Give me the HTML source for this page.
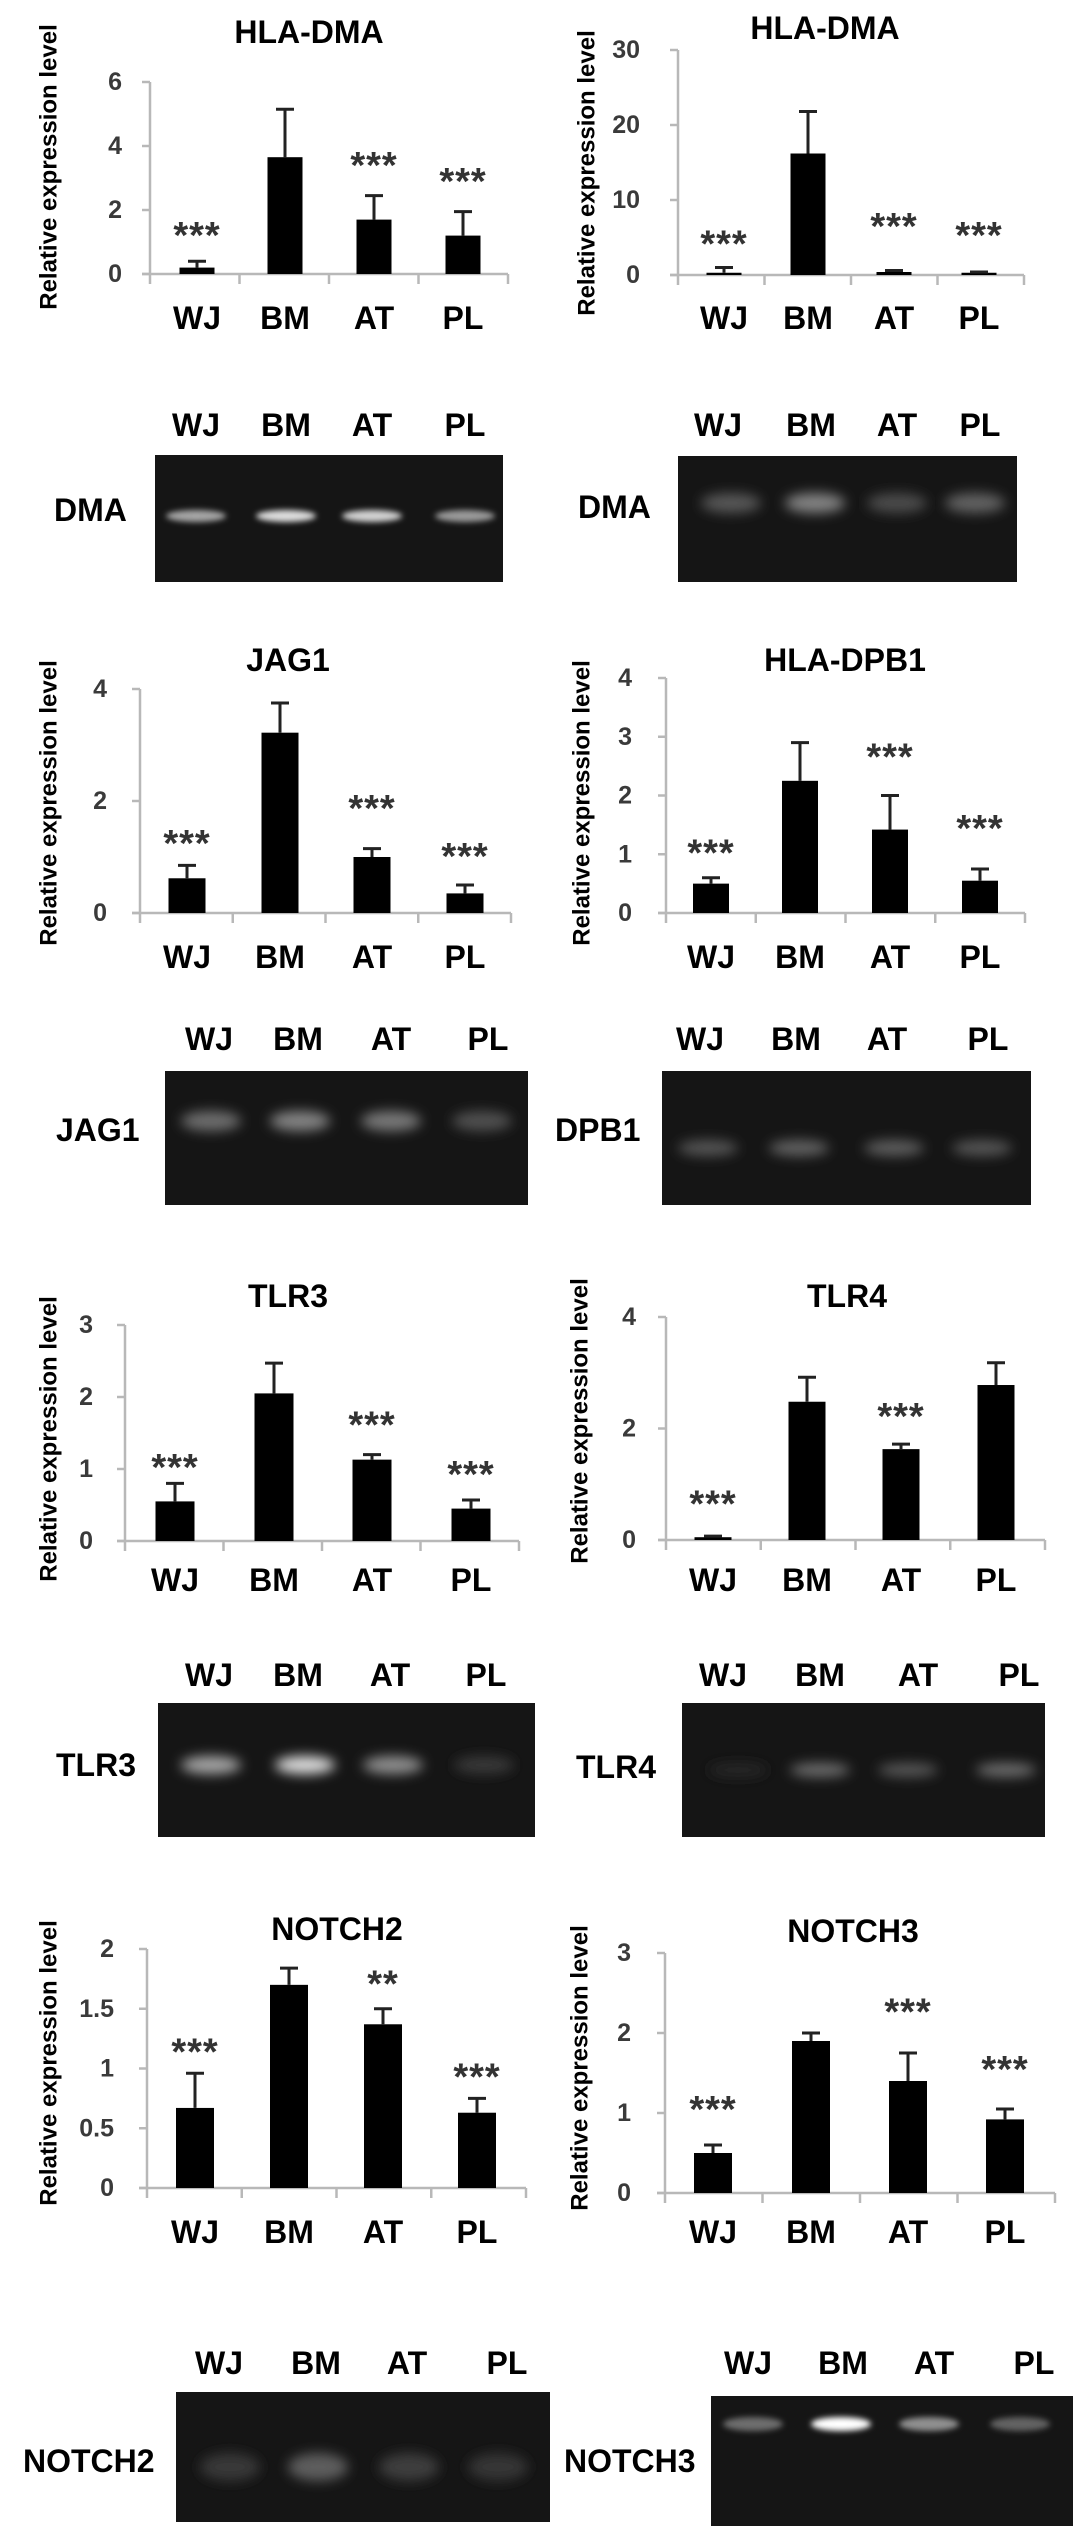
<!DOCTYPE html>
<html><head><meta charset="utf-8">
<style>
html,body{margin:0;padding:0;background:#fff;}
svg{display:block;}
text{font-family:"Liberation Sans",Arial,sans-serif;}
</style></head>
<body>
<svg id="fig" width="1087" height="2526" viewBox="0 0 1087 2526" xmlns="http://www.w3.org/2000/svg">
<defs>
<filter id="blur3" x="-50%" y="-200%" width="200%" height="500%"><feGaussianBlur stdDeviation="3"/></filter>
<filter id="blur6" x="-50%" y="-200%" width="200%" height="500%"><feGaussianBlur stdDeviation="6"/></filter>
</defs>
</svg>
<script>
const categories = ["WJ","BM","AT","PL"];

// HLA-DMA (left)
const c1Values = [0.2, 3.65, 1.7, 1.2];
const c1Errors = [0.4, 5.15, 2.45, 1.95];
const c1Stars = ["***","","***","***"];
const c1StarLevels = [1.47, 0, 3.66, 3.15];
const c1Ticks = [0,2,4,6];
// HLA-DMA (right)
const c2Values = [0.3, 16.2, 0.4, 0.3];
const c2Errors = [1.0, 21.8, 0.6, 0.4];
const c2Stars = ["***","","***","***"];
const c2StarLevels = [5.3, 0, 7.6, 6.4];
const c2Ticks = [0,10,20,30];
// JAG1
const c3Values = [0.62, 3.22, 1.0, 0.35];
const c3Errors = [0.85, 3.75, 1.15, 0.5];
const c3Stars = ["***","","***","***"];
const c3StarLevels = [1.39, 0, 2.02, 1.16];
const c3Ticks = [0,2,4];
// HLA-DPB1
const c4Values = [0.5, 2.25, 1.42, 0.55];
const c4Errors = [0.6, 2.9, 2.0, 0.75];
const c4Stars = ["***","","***","***"];
const c4StarLevels = [1.17, 0, 2.8, 1.58];
const c4Ticks = [0,1,2,3,4];
// TLR3
const c5Values = [0.55, 2.05, 1.13, 0.45];
const c5Errors = [0.8, 2.47, 1.2, 0.57];
const c5Stars = ["***","","***","***"];
const c5StarLevels = [1.14, 0, 1.73, 1.04];
const c5Ticks = [0,1,2,3];
// TLR4
const c6Values = [0.05, 2.48, 1.63, 2.78];
const c6Errors = [0.07, 2.92, 1.72, 3.18];
const c6Stars = ["***","","***",""];
const c6StarLevels = [0.8, 0, 2.37, 0];
const c6Ticks = [0,2,4];
// NOTCH2
const c7Values = [0.67, 1.7, 1.37, 0.63];
const c7Errors = [0.96, 1.84, 1.5, 0.75];
const c7Stars = ["***","","**","***"];
const c7StarLevels = [1.21, 0, 1.78, 1.0];
const c7Ticks = [0,0.5,1,1.5,2];
const c7TickLabels = ["0","0.5","1","1.5","2"];
// NOTCH3
const c8Values = [0.5, 1.9, 1.4, 0.92];
const c8Errors = [0.6, 2.0, 1.75, 1.05];
const c8Stars = ["***","","***","***"];
const c8StarLevels = [1.15, 0, 2.37, 1.65];
const c8Ticks = [0,1,2,3];

// gel band intensities (0-1)
const g1LBands = [0.6, 0.85, 0.8, 0.55];
const g1RBands = [0.25, 0.45, 0.2, 0.3];
const g2LBands = [0.35, 0.45, 0.4, 0.22];
const g2RBands = [0.24, 0.3, 0.28, 0.24];
const g3LBands = [0.6, 0.85, 0.5, 0.12];
const g3RBands = [0.04, 0.35, 0.25, 0.35];
const g4LBands = [0.12, 0.28, 0.14, 0.1];
const g4RBands = [0.35, 1.0, 0.5, 0.3];

const svg = document.getElementById('fig');
const NS = "http://www.w3.org/2000/svg";
function mk(tag, attrs, parent){
  const e = document.createElementNS(NS, tag);
  for (const k in attrs) e.setAttribute(k, attrs[k]);
  (parent||svg).appendChild(e);
  return e;
}
function txt(parent, x, y, s, size, opts){
  opts = opts||{};
  const t = mk('text', {x:x, y:y, 'font-size':size, 'font-weight':opts.w||'bold', fill:opts.fill||'#000',
    'text-anchor':opts.anchor||'middle', 'dominant-baseline':opts.base||'central'}, parent);
  if (opts.tf) t.setAttribute('transform', opts.tf);
  t.textContent = s;
  return t;
}

function chart(id, cfg, values, errors, stars, starLevels, ticks, tickLabels){
  const g = mk('g', {});
  
  
  const ymax = ticks[ticks.length-1];
  const yScale = v => cfg.zero - (v / ymax) * (cfg.zero - cfg.top);
  const xScale = i => cfg.cats[i];
  const title = txt(g, cfg.tx, cfg.ty, cfg.title, 32);
  
  
  const yt = txt(g, cfg.ytx, cfg.yty, 'Relative expression level', 24, {tf:'rotate(-90 '+cfg.ytx+' '+cfg.yty+')'});
  
  
  // axes
  const ya = mk('line', {x1:cfg.ax, y1:yScale(ymax), x2:cfg.ax, y2:cfg.zero+10, stroke:'#b8b8b8', 'stroke-width':2.5}, g);
  
  
  const xa = mk('line', {x1:cfg.ax-8, y1:cfg.zero, x2:cfg.end, y2:cfg.zero, stroke:'#b8b8b8', 'stroke-width':2.5}, g);
  
  
  for (let k=1;k<=4;k++){
    const xx = cfg.ax + k*(cfg.end-cfg.ax)/4;
    mk('line', {x1:xx, y1:cfg.zero, x2:xx, y2:cfg.zero+10, stroke:'#b8b8b8', 'stroke-width':2.5}, g);
  }
  ticks.forEach((t,i)=>{
    const y = yScale(t);
    mk('line', {x1:cfg.ax-8, y1:y, x2:cfg.ax, y2:y, stroke:'#b8b8b8', 'stroke-width':2.5}, g);
    const tl = txt(g, cfg.tr, y, tickLabels ? tickLabels[i] : String(t), 25, {anchor:'end', fill:'#3a3a3a', w:'bold'});
    
    
  });
  values.forEach((v,i)=>{
    const cx = xScale(i), w = cfg.bw;
    const b = mk('rect', {x:cx-w/2, y:yScale(v), width:w, height:cfg.zero-yScale(v), fill:'#000'}, g);
    
    
    const eTop = yScale(errors[i]);
    const eb = mk('path', {d:'M'+cx+' '+yScale(v)+'V'+eTop+'M'+(cx-9)+' '+eTop+'H'+(cx+9), stroke:'#222', 'stroke-width':3, fill:'none'}, g);
    
    
    if (stars[i]){
      const st = txt(g, cx, yScale(starLevels[i]) + 21, stars[i], 38, {base:'auto', fill:'#333', w:'bold'});
      st.setAttribute('letter-spacing', '1');
      
      
    }
    const cl = txt(g, cx, cfg.cy, categories[i], 32);
    
    
  });
}

function gel(id, cfg, bands){
  const g = mk('g', {});
  
  
  categories.forEach((c,i)=>{
    const l = txt(g, cfg.lx[i], cfg.ly, c, 32);
    
    
  });
  const nl = txt(g, cfg.nx, cfg.ny, cfg.name, 32, {anchor:'start'});
  
  
  const box = mk('rect', {x:cfg.x0, y:cfg.y0, width:cfg.x1-cfg.x0, height:cfg.y1-cfg.y0, fill:'#151515'}, g);
  
  
  bands.forEach((v,i)=>{
    const c = Math.round(30 + v*225);
    const band = mk('ellipse', {cx:cfg.bx[i], cy:cfg.by, rx:cfg.rx, ry:cfg.ry, fill:'rgb('+c+','+c+','+c+')', filter:'url(#'+cfg.f+')'}, g);
    
    
  });
}

chart('hla-dma-left', {title:'HLA-DMA', tx:309, ty:32, ytx:49, yty:167, ax:150, end:508, zero:274, top:82, tr:122, cats:[197,285,374,463], bw:35, cy:318}, c1Values, c1Errors, c1Stars, c1StarLevels, c1Ticks);
chart('hla-dma-right', {title:'HLA-DMA', tx:825, ty:28, ytx:587, yty:173, ax:678, end:1024, zero:275, top:50, tr:640, cats:[724,808,894,979], bw:35, cy:318}, c2Values, c2Errors, c2Stars, c2StarLevels, c2Ticks);
chart('jag1', {title:'JAG1', tx:288, ty:660, ytx:49, yty:803, ax:140, end:511, zero:913, top:689, tr:107, cats:[187,280,372,465], bw:37, cy:957}, c3Values, c3Errors, c3Stars, c3StarLevels, c3Ticks);
chart('hla-dpb1', {title:'HLA-DPB1', tx:845, ty:660, ytx:582, yty:803, ax:666, end:1025, zero:913, top:678, tr:632, cats:[711,800,890,980], bw:36, cy:957}, c4Values, c4Errors, c4Stars, c4StarLevels, c4Ticks);
chart('tlr3', {title:'TLR3', tx:288, ty:1296, ytx:49, yty:1439, ax:125, end:519, zero:1541, top:1325, tr:93, cats:[175,274,372,471], bw:39, cy:1580}, c5Values, c5Errors, c5Stars, c5StarLevels, c5Ticks);
chart('tlr4', {title:'TLR4', tx:847, ty:1296, ytx:580, yty:1421, ax:666, end:1045, zero:1540, top:1317, tr:636, cats:[713,807,901,996], bw:37, cy:1580}, c6Values, c6Errors, c6Stars, c6StarLevels, c6Ticks);
chart('notch2', {title:'NOTCH2', tx:337, ty:1929, ytx:49, yty:2063, ax:147, end:526, zero:2188, top:1949, tr:114, cats:[195,289,383,477], bw:38, cy:2232}, c7Values, c7Errors, c7Stars, c7StarLevels, c7Ticks, c7TickLabels);
chart('notch3', {title:'NOTCH3', tx:853, ty:1931, ytx:580, yty:2068, ax:665, end:1055, zero:2193, top:1953, tr:631, cats:[713,811,908,1005], bw:38, cy:2232}, c8Values, c8Errors, c8Stars, c8StarLevels, c8Ticks);

gel('dma-left', {name:'DMA', nx:54, ny:510, lx:[196,286,372,465], ly:425, x0:155, x1:503, y0:455, y1:582, bx:[196,286,372,465], by:516, rx:30, ry:6, f:'blur3'}, g1LBands);
gel('dma-right', {name:'DMA', nx:578, ny:507, lx:[718,811,897,980], ly:425, x0:678, x1:1017, y0:456, y1:582, bx:[731,815,897,975], by:503, rx:30, ry:10, f:'blur6'}, g1RBands);
gel('jag1', {name:'JAG1', nx:56, ny:1130, lx:[209,298,391,488], ly:1039, x0:165, x1:528, y0:1071, y1:1205, bx:[211,300,391,482], by:1121, rx:30, ry:10, f:'blur6'}, g2LBands);
gel('dpb1', {name:'DPB1', nx:555, ny:1130, lx:[700,796,887,988], ly:1039, x0:662, x1:1031, y0:1071, y1:1205, bx:[708,799,894,982], by:1148, rx:30, ry:8, f:'blur6'}, g2RBands);
gel('tlr3', {name:'TLR3', nx:56, ny:1765, lx:[209,298,390,486], ly:1675, x0:158, x1:535, y0:1703, y1:1837, bx:[211,305,393,484], by:1765, rx:30, ry:9, f:'blur6'}, g3LBands);
gel('tlr4', {name:'TLR4', nx:576, ny:1767, lx:[723,820,918,1019], ly:1675, x0:682, x1:1045, y0:1703, y1:1837, bx:[738,820,908,1006], by:1770, rx:30, ry:7, f:'blur6'}, g3RBands);
gel('notch2', {name:'NOTCH2', nx:23, ny:2461, lx:[219,316,407,507], ly:2363, x0:176, x1:550, y0:2392, y1:2522, bx:[230,318,409,498], by:2467, rx:30, ry:14, f:'blur6'}, g4LBands);
gel('notch3', {name:'NOTCH3', nx:564, ny:2461, lx:[748,843,934,1034], ly:2363, x0:711, x1:1073, y0:2396, y1:2526, bx:[753,841,929,1020], by:2424, rx:30, ry:7, f:'blur3'}, g4RBands);
</script>
</body></html>
